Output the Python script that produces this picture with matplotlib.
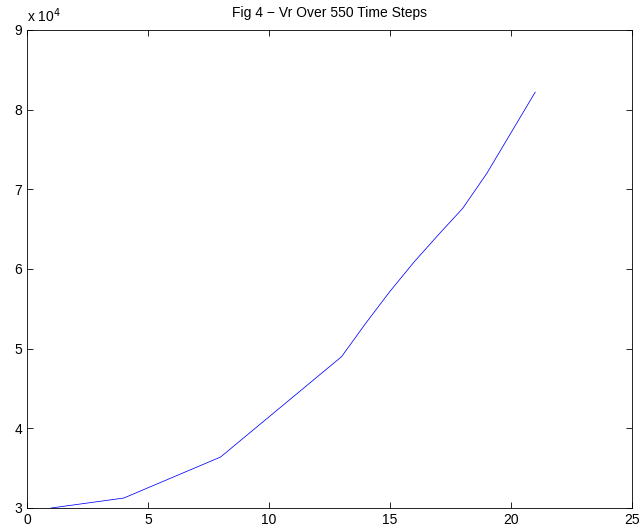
import numpy as np
import matplotlib.pyplot as plt
from matplotlib.ticker import FuncFormatter

plt.rcParams['font.family'] = ['Liberation Sans', 'DejaVu Sans']

# Данные
steps = [1, 4, 8, 13, 14, 15, 16, 17, 18, 19, 21]
vr = [30000, 31250, 36400, 49000, 53200, 57200, 60900, 64300, 67600, 72000, 82200]

fig = plt.figure(figsize=(6.44, 5.29), dpi=100)
ax = fig.add_axes([0.0419, 0.0397, 0.9395, 0.9036])
ax.plot(steps, vr, color='#0000ff', linewidth=0.55)

ax.set_xlim(0, 25)
ax.set_ylim(30000, 90000)
ax.set_xticks(np.arange(0, 26, 5))
ax.set_yticks(np.arange(30000, 90001, 10000))
ax.yaxis.set_major_formatter(FuncFormatter(lambda v, p: f'{v / 1e4:g}'))
ax.tick_params(direction='in', top=True, right=True, labelsize=10, length=4, width=0.6)
for s in ax.spines.values():
    s.set_linewidth(0.6)

ax.set_title('Fig 4 \u2212 Vr Over 550 Time Steps', fontsize=10, pad=9)
ax.text(0.0, 1.01, 'x 10$^4$', transform=ax.transAxes, fontsize=10, ha='left', va='bottom')

fig.savefig('out.png', dpi=100)
